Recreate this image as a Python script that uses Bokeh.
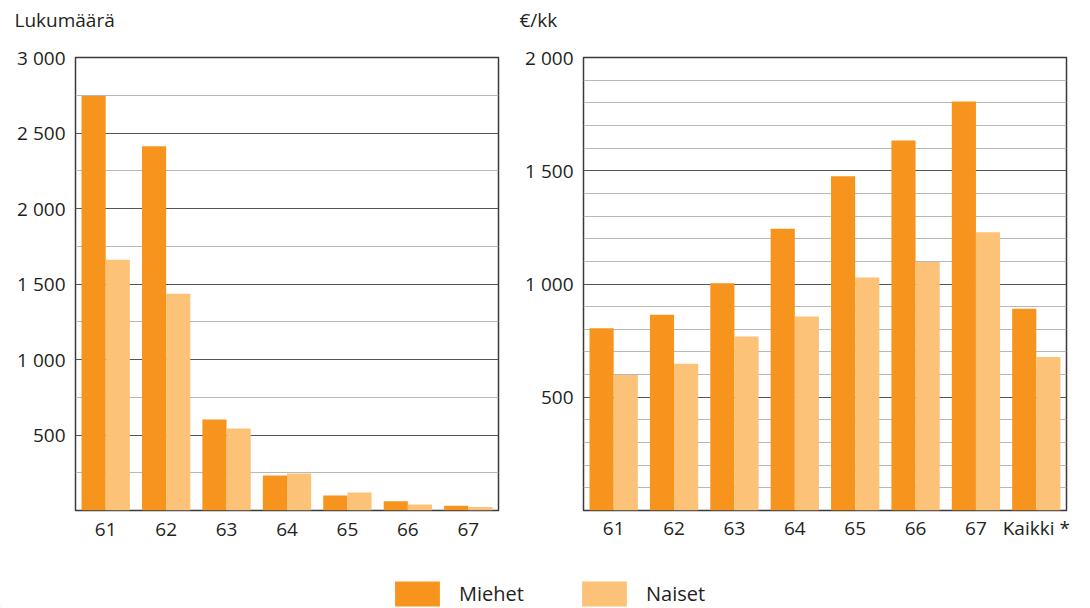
from bokeh.plotting import figure
from bokeh.layouts import row, column
from bokeh.models import (ColumnDataSource, FactorRange, Range1d, FixedTicker,
                          Legend, LegendItem, Label)
from bokeh.transform import dodge
from bokeh.embed import file_html
from bokeh.resources import INLINE

# ---------------- data ----------------
ages = ["61", "62", "63", "64", "65", "66", "67"]
count_men = [2745, 2413, 603, 232, 99, 62, 31]
count_women = [1660, 1435, 543, 245, 119, 40, 24]

pension_cats = ["61", "62", "63", "64", "65", "66", "67", "Kaikki *"]
pension_men = [805, 864, 1003, 1244, 1476, 1634, 1806, 891]
pension_women = [598, 648, 768, 856, 1029, 1097, 1229, 678]

left_ticks = [500, 1000, 1500, 2000, 2500, 3000]
left_tick_labels = ["500", "1 000", "1 500", "2 000", "2 500", "3 000"]
left_minor = [250, 750, 1250, 1750, 2250, 2750]

right_ticks = [500, 1000, 1500, 2000]
right_tick_labels = ["500", "1 000", "1 500", "2 000"]
right_minor = [100, 200, 300, 400, 600, 700, 800, 900, 1100, 1200, 1300,
               1400, 1600, 1700, 1800, 1900]

series_names = ["Miehet", "Naiset"]
panel_titles = ["Lukumäärä", "€/kk"]

# ---------------- style ----------------
C_MEN = "#F7941D"
C_WOMEN = "#FCC277"
TXT = "#231f20"
FONT = "Open Sans"
FS = "19px"
TOTAL_W = 1082


def make_panel(cats, men, women, ymax, ticks, labels, minor,
               width, mb_left, mb_right, x_standoff):
    src = ColumnDataSource(dict(cat=cats, men=men, women=women))
    p = figure(x_range=FactorRange(*cats, range_padding=0),
               y_range=Range1d(0, ymax),
               width=width, height=520,
               min_border_left=mb_left, min_border_right=mb_right,
               min_border_top=17, min_border_bottom=50,
               toolbar_location=None, output_backend="svg")
    p.vbar(x=dodge("cat", -0.2, range=p.x_range), top="men", width=0.4,
           source=src, fill_color=C_MEN, line_color=None)
    p.vbar(x=dodge("cat", 0.2, range=p.x_range), top="women", width=0.4,
           source=src, fill_color=C_WOMEN, line_color=None)

    p.background_fill_color = "white"
    p.border_fill_color = "white"
    p.outline_line_color = "#3a3a3a"
    p.outline_line_width = 1.5

    p.xgrid.grid_line_color = None
    p.ygrid.ticker = FixedTicker(ticks=ticks, minor_ticks=minor)
    p.ygrid.grid_line_color = "#555555"
    p.ygrid.grid_line_width = 1
    p.ygrid.minor_grid_line_color = "#b8b8b8"
    p.ygrid.minor_grid_line_width = 1

    p.yaxis.ticker = FixedTicker(ticks=ticks)
    p.yaxis.major_label_overrides = {t: l for t, l in zip(ticks, labels)}
    for ax in (p.xaxis[0], p.yaxis[0]):
        ax.axis_line_color = None
        ax.major_tick_line_color = None
        ax.minor_tick_line_color = None
        ax.major_tick_out = 0
        ax.major_tick_in = 0
        ax.major_label_text_font = FONT
        ax.major_label_text_font_size = FS
        ax.major_label_text_color = TXT
    p.yaxis.major_label_standoff = 10
    p.xaxis.major_label_standoff = x_standoff
    return p


left = make_panel(ages, count_men, count_women, 3000, left_ticks,
                  left_tick_labels, left_minor, 508, 75, 10, 12)
right = make_panel(pension_cats, pension_men, pension_women, 2000, right_ticks,
                   right_tick_labels, right_minor, 574, 75, 16, 4)


def strip(height):
    s = figure(width=TOTAL_W, height=height, toolbar_location=None,
               output_backend="svg", min_border=0,
               x_range=Range1d(0, TOTAL_W), y_range=Range1d(0, height))
    s.axis.visible = False
    s.grid.visible = False
    s.outline_line_color = None
    s.background_fill_color = "white"
    s.border_fill_color = "white"
    return s


# ---------------- title strip (unit titles of the two panels) ----------------
top = strip(40)
for txt, xpos in zip(panel_titles, (14, 519)):
    top.add_layout(Label(x=xpos, y=21, text=txt, text_font=FONT,
                         text_font_size=FS, text_color=TXT,
                         text_baseline="alphabetic", text_align="left"))

# ---------------- legend strip ----------------
leg = strip(48)
hidden = ColumnDataSource(dict(x=[-100], top=[1]))
r_men = leg.vbar(x="x", top="top", width=1, source=hidden,
                 fill_color=C_MEN, line_color=None)
r_women = leg.vbar(x="x", top="top", width=1, source=hidden,
                   fill_color=C_WOMEN, line_color=None)

for name, rend, loc in ((series_names[0], r_men, (389, -1)),
                        (series_names[1], r_women, (576, -1))):
    lg = Legend(items=[LegendItem(label=name, renderers=[rend])],
                location=loc, orientation="horizontal",
                glyph_width=56, glyph_height=31, label_standoff=14,
                label_text_font=FONT, label_text_font_size="20px",
                label_text_color=TXT, label_height=31,
                padding=0, margin=0, spacing=0,
                border_line_color=None, background_fill_alpha=0)
    leg.add_layout(lg)

layout = column(top, row(left, right), leg)

open("out.html", "w").write(file_html(layout, INLINE))
